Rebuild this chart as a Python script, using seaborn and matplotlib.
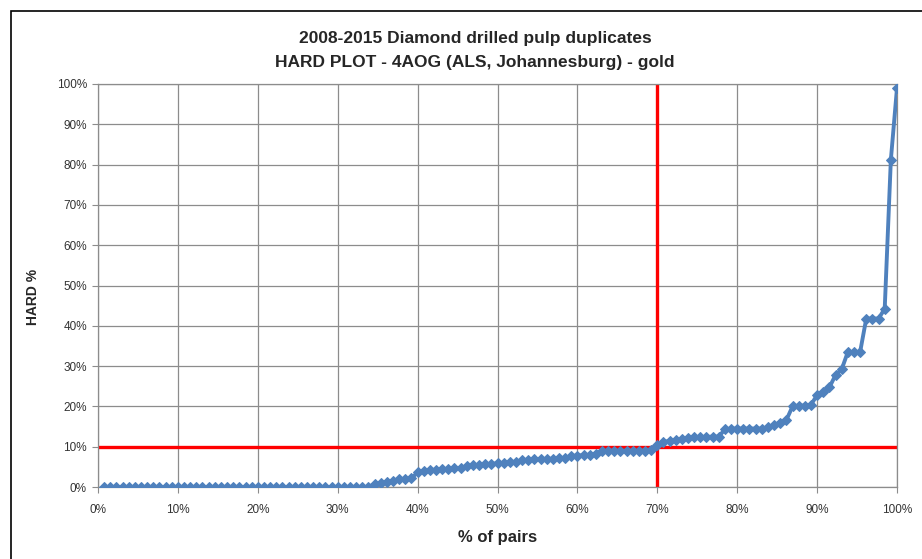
import numpy as np
import pandas as pd
import seaborn as sns
import matplotlib.pyplot as plt
from matplotlib.patches import Rectangle
from matplotlib.ticker import PercentFormatter, MultipleLocator


TITLE = '2008-2015 Diamond drilled pulp duplicates\nHARD PLOT - 4AOG (ALS, Johannesburg) - gold'
X_LABEL = '% of pairs'
Y_LABEL = 'HARD %'

# HARD % of each pair, sorted ascending
hard_pct = [0.0] * 44 + [
    0.7, 1.0, 1.3, 1.6, 1.9, 2.0, 2.2, 3.6, 4.0, 4.2,
    4.3, 4.4, 4.5, 4.6, 4.7, 5.2, 5.4, 5.5, 5.6, 5.7,
    5.9, 6.0, 6.1, 6.3, 6.6, 6.8, 6.9, 6.9, 7.0, 7.0,
    7.1, 7.2, 7.7, 7.8, 7.9, 8.0, 8.3, 8.9, 9.0, 9.0,
    9.0, 9.0, 9.0, 9.0, 9.0, 9.1, 10.3, 11.2, 11.4, 11.6,
    11.8, 12.2, 12.3, 12.4, 12.4, 12.5, 12.5, 14.3, 14.5, 14.5,
    14.5, 14.5, 14.5, 14.5, 14.8, 15.4, 16.0, 16.6, 20.0, 20.2,
    20.2, 20.4, 22.8, 23.6, 24.7, 27.8, 29.2, 33.5, 33.5, 33.5,
    41.8, 41.8, 41.8, 44.2, 81.2, 99.0,
]
# acceptance limits drawn in red
hard_limit = 10
pairs_limit = 70

SERIES_COLOR = '#4F81BD'
LIMIT_COLOR = '#FF0000'
GRID_COLOR = '#8C8C8C'


def build_frame():
    n = len(hard_pct)
    df = pd.DataFrame({'hard': hard_pct})
    df['rank'] = np.arange(1, n + 1)
    df['pairs'] = df['rank'] / n * 100
    return df


def hard_plot(df):
    sns.set_style('white')
    plt.rcParams['font.family'] = ['Liberation Sans', 'DejaVu Sans']

    fig = plt.figure(figsize=(9.22, 5.59), dpi=100)
    ax = fig.add_axes([98 / 922, 1 - 487 / 559, 799 / 922, 403 / 559])

    # chart area border
    fig.patches.append(Rectangle((11 / 922, -0.05), 1.1, 1 - 11 / 559 + 0.05,
                                 transform=fig.transFigure, fill=False,
                                 edgecolor='black', linewidth=1.2))

    ax.axhline(hard_limit, color=LIMIT_COLOR, linewidth=2.4, zorder=2)
    ax.axvline(pairs_limit, color=LIMIT_COLOR, linewidth=2.4, zorder=2)

    sns.lineplot(data=df, x='pairs', y='hard', ax=ax, color=SERIES_COLOR,
                 linewidth=2.8, marker='D', markersize=5.5,
                 markeredgecolor=SERIES_COLOR, zorder=3)

    ax.set_xlim(0, 100)
    ax.set_ylim(0, 100)
    ax.xaxis.set_major_locator(MultipleLocator(10))
    ax.yaxis.set_major_locator(MultipleLocator(10))
    ax.xaxis.set_major_formatter(PercentFormatter(decimals=0))
    ax.yaxis.set_major_formatter(PercentFormatter(decimals=0))
    ax.grid(True, color=GRID_COLOR, linewidth=0.9)
    ax.set_axisbelow(True)
    for side in ax.spines.values():
        side.set_color(GRID_COLOR)
        side.set_linewidth(0.9)
    ax.tick_params(axis='both', length=4, color=GRID_COLOR, labelsize=8.5,
                   labelcolor='#333333', pad=4, bottom=True, left=True)
    ax.tick_params(axis='x', pad=8)

    ax.set_xlabel(X_LABEL, fontsize=12, fontweight='bold', labelpad=10)
    ax.set_ylabel('')
    fig.text(33 / 922, 1 - 297 / 559, Y_LABEL, ha='center', va='center',
             rotation=90, fontsize=10, fontweight='bold')
    fig.text(475 / 922, 1 - 50 / 559, TITLE, ha='center', va='center',
             fontsize=12.5, fontweight='bold', linespacing=1.75)

    fig.savefig('out.png', dpi=100)


if __name__ == '__main__':
    df = build_frame()
    hard_plot(df)
